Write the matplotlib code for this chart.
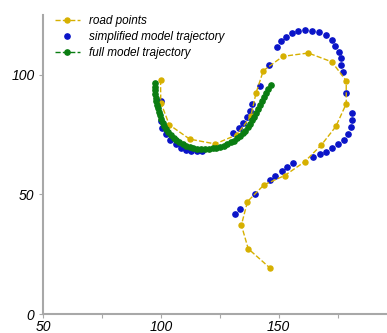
import matplotlib
matplotlib.use('Agg')
import matplotlib.pyplot as plt
from matplotlib.ticker import FixedLocator

plt.rcParams['font.family'] = ['Liberation Sans', 'DejaVu Sans']

# road points (yellow)
road_x = [99.9, 100.0, 103.6, 112.3, 123.1, 132.2, 138.2, 140.4, 143.5, 151.8, 162.6,
          172.6, 178.7, 178.7, 174.3, 168.1, 161.0, 152.6, 143.8, 136.8, 134.2, 137.1, 146.5]
road_y = [97.9, 88.4, 79.1, 73.1, 71.1, 74.9, 82.6, 92.3, 101.7, 107.7, 109.1,
          105.4, 97.5, 87.9, 78.4, 70.6, 63.6, 57.9, 54.0, 47.0, 37.2, 27.3, 19.1]

# simplified model trajectory (blue)
simp_x = [99.9, 100.3, 100.7, 102.1, 104.1, 106.4, 108.6, 110.6, 113.0, 115.2, 117.6,
          130.5, 133.2, 135.0, 136.8, 137.9, 138.9, 142.2, 146.0, 149.2, 151.0, 153.2,
          155.7, 158.4, 161.3, 164.2, 167.3, 170.1, 172.5, 174.1, 175.6, 176.3, 176.6,
          177.2, 178.7, 181.0, 181.3, 180.6, 179.6, 177.7, 175.3, 172.7, 170.1, 167.4,
          164.7, 155.9, 153.6, 151.5, 148.6, 146.5, 139.9, 133.5, 131.7]
simp_y = [89.0, 80.5, 77.7, 75.2, 72.8, 71.1, 69.3, 68.6, 68.3, 68.1, 68.3,
          75.6, 77.6, 79.8, 82.3, 84.9, 87.7, 95.5, 103.9, 111.8, 114.2, 116.0,
          117.4, 118.4, 118.8, 118.5, 117.9, 116.6, 114.6, 112.2, 109.6, 107.0, 103.9,
          101.0, 92.3, 84.0, 80.9, 78.0, 75.2, 72.8, 71.0, 69.2, 67.9, 66.9,
          65.8, 63.3, 61.6, 59.8, 57.9, 56.1, 50.2, 43.9, 41.8]

# full model trajectory (green)
full_x = [97.4, 97.4, 97.5, 97.6, 97.8, 98.1, 98.4, 98.7, 99.2, 99.7, 100.2, 100.8,
          101.5, 102.3, 103.2, 104.2, 105.4, 106.6, 107.9, 109.3, 110.8, 112.3, 113.8,
          115.4, 117.1, 118.7, 120.4, 122.0, 123.6, 125.2, 126.8, 128.2, 129.7, 131.0,
          132.3, 133.6, 134.8, 135.9, 136.9, 137.9, 138.8, 139.7, 140.5, 141.3, 142.2,
          143.0, 143.8, 144.7, 145.7, 146.8]
full_y = [96.5, 95.0, 93.5, 92.0, 90.5, 89.0, 87.5, 86.0, 84.5, 83.0, 81.5, 80.0,
          78.6, 77.2, 75.9, 74.7, 73.6, 72.6, 71.7, 70.9, 70.3, 69.8, 69.4,
          69.1, 68.9, 68.9, 69.0, 69.2, 69.5, 69.9, 70.4, 71.0, 71.7, 72.5,
          73.4, 74.4, 75.5, 76.7, 78.0, 79.4, 80.9, 82.5, 84.1, 85.8, 87.5,
          89.2, 90.9, 92.5, 94.1, 95.6]

yellow = '#d6b000'
blue = '#0a14c8'
green = '#0a7d12'
gray = '#a8a8a8'

fig = plt.figure(figsize=(3.87, 3.33), dpi=100)
ax = fig.add_axes([0.111, 0.057, 0.889, 0.898])

ax.plot(road_x, road_y, '--', color=yellow, lw=1.0, marker='o', ms=3.6,
        label='road points', zorder=3)
ax.plot(simp_x, simp_y, 'o', color=blue, ms=3.8, ls='none',
        label='simplified model trajectory', zorder=2)
ax.plot(full_x, full_y, '--', color=green, lw=1.0, marker='o', ms=3.8,
        label='full model trajectory', zorder=4)

ax.set_xlim(50, 196)
ax.set_ylim(0, 125)

for s in ['top', 'right']:
    ax.spines[s].set_visible(False)
for s in ['left', 'bottom']:
    ax.spines[s].set_color(gray)
    ax.spines[s].set_linewidth(1.5)

ax.set_xticks([50, 100, 150])
ax.xaxis.set_minor_locator(FixedLocator([75, 125, 175]))
ax.set_yticks([0, 50, 100])
ax.tick_params(axis='both', which='both', colors=gray, length=3, width=0.8,
               labelcolor='black', labelsize=10)
ax.tick_params(axis='x', pad=1)
ax.tick_params(axis='y', pad=3)
for lab in ax.get_xticklabels() + ax.get_yticklabels():
    lab.set_fontstyle('italic')

leg = fig.legend(loc='upper left', bbox_to_anchor=(0.142, 0.955), frameon=False,
                 prop={'style': 'italic', 'size': 8.5}, handlelength=2.1,
                 borderpad=0, borderaxespad=0, labelspacing=0.35, handletextpad=0.8)

fig.savefig('out.png', dpi=100)
